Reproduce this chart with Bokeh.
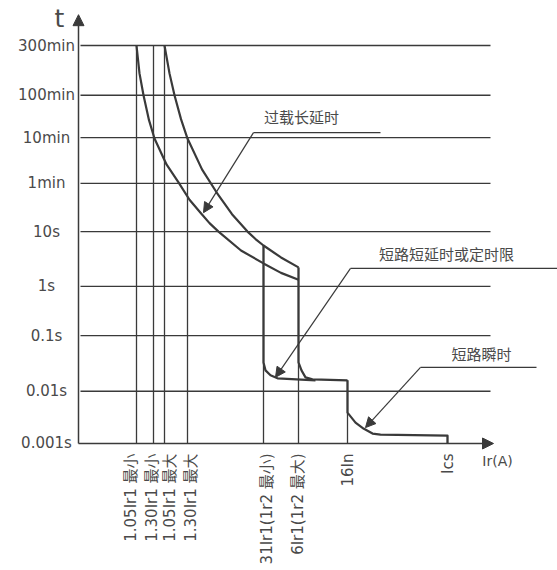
from math import pi
from bokeh.plotting import figure
from bokeh.models import Range1d, ColumnDataSource, Arrow, NormalHead
from bokeh.core.properties import value
from bokeh.embed import file_html
from bokeh.resources import INLINE

# ---- y axis: time labels and their schematic level on the chart ----
y_labels = ["0.001s", "0.01s", "0.1s", "1s", "10s", "1min", "10min", "100min", "300min"]
y_levels = [0.0, 1.05, 2.17, 3.16, 4.26, 5.23, 6.15, 7.0, 8.0]

# ---- x axis: current break points ----
x_labels = ["1.05Ir1 最小", "1.30Ir1 最小", "1.05Ir1 最大", "1.30Ir1 最大",
            "31Ir1(1r2 最小)", "6Ir1(1r2 最大)", "16In", "Ics"]
x_breaks = [5.8, 7.5, 8.6, 10.9, 18.5, 22.0, 26.9, 36.9]
x_break_top = [8.0, 8.0, 8.0, 6.13, 3.98, 3.54, 1.27, 0.16]

# ---- overload long-delay curves ----
ovl_min_x = [5.8, 6.1, 6.5, 7.05, 7.6, 8.8, 10.0, 11.1, 12.2, 13.1, 14.0, 16.25, 18.5, 20.25, 22.0]
ovl_min_y = [8.0, 7.44, 7.0, 6.5, 6.13, 5.61, 5.25, 4.9, 4.64, 4.43, 4.26, 3.88, 3.62, 3.43, 3.29]
ovl_max_x = [8.6, 9.1, 9.6, 10.25, 10.9, 12.35, 13.8, 15.35, 16.9, 17.7, 18.5, 20.25, 22.0]
ovl_max_y = [8.0, 7.44, 7.0, 6.52, 6.13, 5.51, 5.05, 4.61, 4.26, 4.11, 3.98, 3.74, 3.54]

# ---- short-circuit short-delay curves ----
sd_min_x = [18.5, 18.5, 18.7, 19.2, 19.9, 23.7]
sd_min_y = [3.98, 1.63, 1.47, 1.37, 1.31, 1.27]
sd_max_x = [22.0, 22.0, 22.3, 22.7, 23.4, 26.9]
sd_max_y = [3.54, 1.63, 1.47, 1.33, 1.29, 1.27]

# ---- short-circuit instantaneous ----
inst_x = [26.9, 26.9, 27.7, 28.5, 29.4, 30.2, 36.9, 36.9]
inst_y = [1.27, 0.62, 0.42, 0.30, 0.20, 0.18, 0.16, 0.0]

# ---- annotations ----
ann_text = ["过载长延时", "短路短延时或定时限", "短路瞬时"]
ann_tx = [22.3, 36.8, 40.3]
ann_ty = [6.57, 3.82, 1.81]
lead_x0 = [17.5, 27.2, 34.2]
lead_x1 = [30.2, 47.9, 45.8]
lead_y = [6.25, 3.52, 1.53]
tip_x = [12.5, 19.7, 28.7]
tip_y = [4.64, 1.33, 0.32]

LINE = "#3a3a3a"
TXT = "#4a4a4a"
LATIN = value("DejaVu Sans, Noto Sans CJK SC")
CJK = value("Noto Sans CJK SC")

p = figure(width=557, height=570, output_backend="svg", toolbar_location=None,
           x_range=Range1d(-7.8, 47.9), y_range=Range1d(-2.553, 8.905),
           min_border=0, outline_line_color=None)
p.axis.visible = False
p.grid.visible = False
p.background_fill_color = "white"
p.border_fill_color = "white"

# horizontal gridlines (one per time level, except the axis itself)
p.segment(x0=0.2, x1=41.2, y0=y_levels[1:], y1=y_levels[1:], line_color=LINE, line_width=1.3)
# vertical break lines
p.segment(x0=x_breaks, x1=x_breaks, y0=0, y1=x_break_top, line_color=LINE, line_width=1.3)

# curves
for xs, ys in [(ovl_min_x, ovl_min_y), (ovl_max_x, ovl_max_y),
               (sd_min_x, sd_min_y), (sd_max_x, sd_max_y), (inst_x, inst_y)]:
    p.line(xs, ys, line_color=LINE, line_width=2.2, line_join="round")

# axes with arrows
p.add_layout(Arrow(end=NormalHead(size=11, fill_color=LINE, line_color=LINE),
                   x_start=0, y_start=0, x_end=0, y_end=8.62,
                   line_color=LINE, line_width=1.5))
p.add_layout(Arrow(end=NormalHead(size=11, fill_color=LINE, line_color=LINE),
                   x_start=0, y_start=0, x_end=41.5, y_end=0,
                   line_color=LINE, line_width=1.5))

# y tick labels
p.text(x=-3.2, y=y_levels, text=y_labels, text_align="center", text_baseline="middle",
       text_font=LATIN, text_font_size="15px", text_color=TXT)
# x tick labels (vertical)
x_nudge = [-6, -2, 5, 3, 3, -1, 0, 0]
p.text(x=x_breaks, y=-0.2, text=x_labels, angle=pi / 2, x_offset=x_nudge,
       text_align="right", text_baseline="middle",
       text_font=LATIN, text_font_size="15px", text_color=TXT)
# axis titles
p.text(x=[-1.9], y=[8.54], text=["t"], text_align="center", text_baseline="middle",
       text_font=LATIN, text_font_size="25px", text_color=TXT)
p.text(x=[41.9], y=[-0.36], text=["Ir(A)"], text_align="center", text_baseline="middle",
       text_font=LATIN, text_font_size="14px", text_color=TXT)

# annotations
p.text(x=ann_tx, y=ann_ty, text=ann_text, text_align="center", text_baseline="middle",
       text_font=CJK, text_font_size="15px", text_color=TXT)
p.segment(x0=lead_x0, x1=lead_x1, y0=lead_y, y1=lead_y, line_color=LINE, line_width=1.2)
src = ColumnDataSource(dict(xs=lead_x0, ys=lead_y, xe=tip_x, ye=tip_y))
p.add_layout(Arrow(end=NormalHead(size=10, fill_color=LINE, line_color=LINE),
                   x_start="xs", y_start="ys", x_end="xe", y_end="ye", source=src,
                   line_color=LINE, line_width=1.2))

open("out.html", "w").write(file_html(p, INLINE))
